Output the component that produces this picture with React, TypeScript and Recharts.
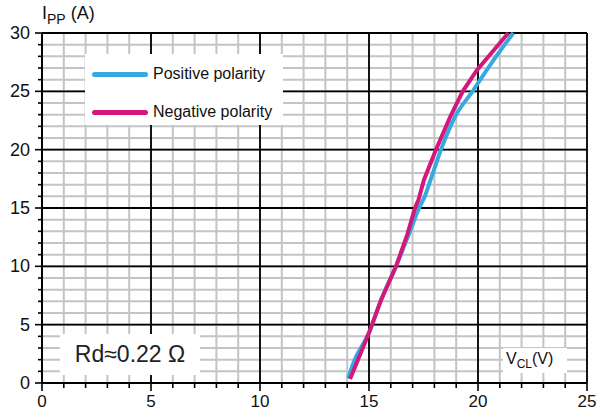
import React from 'react';
import { LineChart, Line, XAxis, YAxis, CartesianGrid, ReferenceLine } from 'recharts';

// Positive polarity curve: V_CL (V) vs I_PP (A)
const posV = [14.05, 14.28, 15.0, 15.55, 16.24, 16.84, 17.3, 17.56, 17.86, 18.3, 18.94, 19.75, 20.5, 21.62];
const posI = [0.4, 1.7, 4.3, 7.1, 10, 12.8, 15, 16.0, 17.6, 20, 22.8, 25, 27.1, 30];

// Negative polarity curve
const negV = [14.13, 14.43, 15.0, 15.55, 16.24, 16.77, 17.11, 17.27, 17.52, 18.07, 18.72, 19.3, 19.94, 21.39];
const negI = [0.35, 1.7, 4.3, 7.1, 10, 12.8, 15, 15.7, 17.4, 20, 22.8, 25, 26.8, 30];

const xTicks = Array.from({ length: 26 }, (_, i) => i);
const yTicks = Array.from({ length: 31 }, (_, i) => i);
const xMajor = [5, 10, 15, 20, 25];
const yMajor = [5, 10, 15, 20, 25, 30];

const posData = posV.map((v, i) => ({ v, i: posI[i] }));
const negData = negV.map((v, i) => ({ v, i: negI[i] }));

const FONT = '"Liberation Sans", Arial, sans-serif';
const BLUE = '#36a9e1';
const MAGENTA = '#d3187b';

const XTick = (props: any) => {
  const { x, y, payload } = props;
  const major = payload.value % 5 === 0;
  return (
    <g>
      <line x1={x} x2={x} y1={y} y2={y + (major ? 8 : 5)} stroke="#000" strokeWidth={1.6} />
      {major && (
        <text x={x} y={y + 24} textAnchor="middle" fontSize={17} fontFamily={FONT} fill="#111">
          {payload.value}
        </text>
      )}
    </g>
  );
};

const YTick = (props: any) => {
  const { x, y, payload } = props;
  const major = payload.value % 5 === 0;
  return (
    <g>
      <line x1={x} x2={x - (major ? 7 : 4)} y1={y} y2={y} stroke="#000" strokeWidth={1.6} />
      {major && (
        <text x={x - 12} y={y + 6} textAnchor="end" fontSize={18} fontFamily={FONT} fill="#111">
          {payload.value}
        </text>
      )}
    </g>
  );
};

export default function App() {
  return (
    <div style={{ position: 'absolute', left: 0, top: 0, width: 598, height: 411, background: '#fff', fontFamily: FONT }}>
      <LineChart width={598} height={411} margin={{ top: 33, right: 11, bottom: 0, left: 2 }}>
        <CartesianGrid stroke="#c4c4c4" strokeWidth={2} />
        {xMajor.map(v => (
          <ReferenceLine key={'x' + v} x={v} stroke="#000" strokeWidth={1.8} />
        ))}
        {yMajor.map(v => (
          <ReferenceLine key={'y' + v} y={v} stroke="#000" strokeWidth={1.8} />
        ))}
        <XAxis
          type="number"
          dataKey="v"
          domain={[0, 25]}
          ticks={xTicks}
          interval={0}
          height={28}
          tickSize={0}
          tickMargin={0}
          tickLine={false}
          tick={<XTick />}
          axisLine={{ stroke: '#000', strokeWidth: 2 }}
        />
        <YAxis
          type="number"
          dataKey="i"
          domain={[0, 30]}
          ticks={yTicks}
          interval={0}
          width={40}
          tickSize={0}
          tickMargin={0}
          tickLine={false}
          tick={<YTick />}
          axisLine={{ stroke: '#000', strokeWidth: 2 }}
        />
        <Line data={posData} dataKey="i" type="monotone" stroke={BLUE} strokeWidth={4} dot={false} isAnimationActive={false} />
        <Line data={negData} dataKey="i" type="linear" stroke={MAGENTA} strokeWidth={4} dot={false} isAnimationActive={false} />
      </LineChart>

      {/* y-axis title */}
      <div style={{ position: 'absolute', left: 42, top: 3, fontSize: 18, color: '#111', whiteSpace: 'nowrap', lineHeight: '20px' }}>
        I<sub style={{ fontSize: 14 }}>PP</sub> (A)
      </div>

      {/* legend */}
      <div style={{ position: 'absolute', left: 85, top: 54, width: 198, height: 71, background: '#fff' }}>
        <div style={{ position: 'absolute', left: 7, top: 18, width: 56, height: 5, borderRadius: 3, background: BLUE }} />
        <div style={{ position: 'absolute', left: 68, top: 11, fontSize: 16, color: '#111', whiteSpace: 'nowrap' }}>Positive polarity</div>
        <div style={{ position: 'absolute', left: 7, top: 56, width: 56, height: 5, borderRadius: 3, background: MAGENTA }} />
        <div style={{ position: 'absolute', left: 68, top: 49, fontSize: 16, color: '#111', whiteSpace: 'nowrap' }}>Negative polarity</div>
      </div>

      {/* Rd annotation */}
      <div style={{ position: 'absolute', left: 60, top: 334, width: 140, height: 41, background: '#fff', display: 'flex', alignItems: 'center', justifyContent: 'center', fontSize: 23, color: '#222', whiteSpace: 'nowrap' }}>
        Rd≈0.22 Ω
      </div>

      {/* x-axis title */}
      <div style={{ position: 'absolute', left: 503, top: 348, width: 64, height: 25, background: '#fff' }}>
        <div style={{ position: 'absolute', left: 3, top: 2, fontSize: 16, color: '#111', whiteSpace: 'nowrap' }}>
          V<sub style={{ fontSize: 12 }}>CL</sub>(V)
        </div>
      </div>
    </div>
  );
}
